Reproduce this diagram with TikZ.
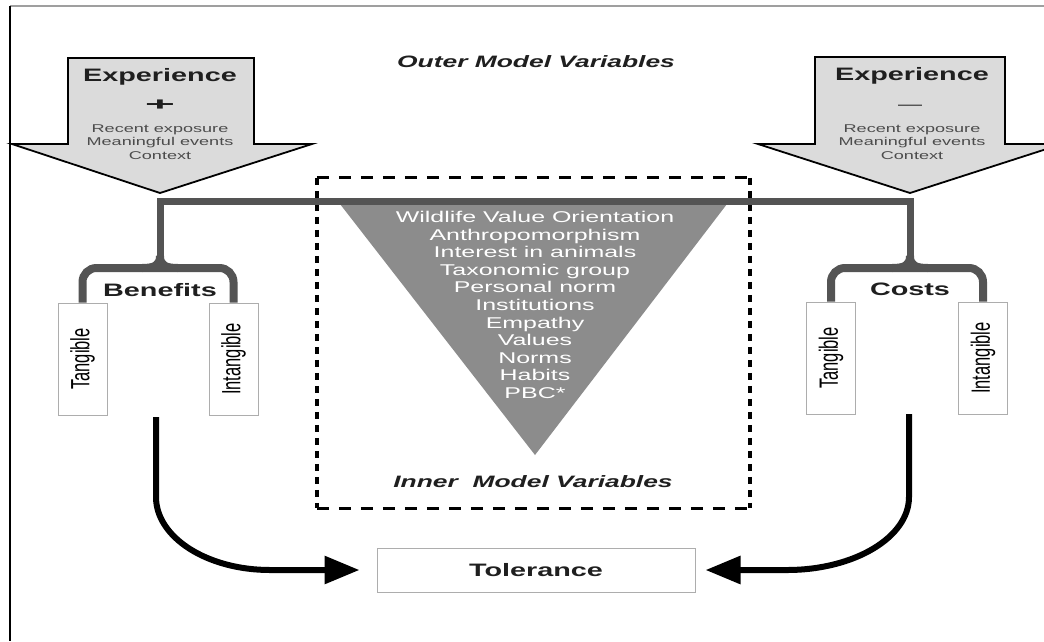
\documentclass[tikz,border=0pt]{standalone}
\usepackage{fontspec}
\usepackage{graphicx}
\setmainfont{Liberation Sans}[FakeStretch=1.6]
\newfontfamily\uprightfont{Liberation Sans}
\usetikzlibrary{positioning, arrows.meta}

\definecolor{barGray}{gray}{0.33}
\definecolor{triFill}{gray}{0.55}
\definecolor{arrowFill}{gray}{0.86}
\definecolor{boxLine}{gray}{0.68}
\definecolor{textDark}{gray}{0.12}
\definecolor{textGray}{gray}{0.30}

\newcommand{\sidelabel}[1]{\rotatebox{90}{\scalebox{1}[1.6]{\uprightfont\fontsize{16.5}{18}\selectfont #1}}}

\begin{document}
\begin{tikzpicture}[
        x=1pt, y=-1pt,
        bar/.style={draw=barGray, line width=7pt, line join=miter},
        branch/.style={draw=barGray, line width=8pt},
        flow/.style={draw=black, line width=6pt, -{Triangle[length=35pt, width=27pt]}},
        expshape/.style={draw=black, line width=1.8pt, fill=arrowFill, line join=miter},
        heading/.style={font=\fontsize{18}{20}\selectfont\bfseries, text=textDark, inner sep=0pt},
        subtext/.style={font=\fontsize{11.3}{13.5}\selectfont, text=textGray, align=center, inner sep=0pt},
        titletext/.style={font=\fontsize{16.5}{18}\selectfont\bfseries\itshape, text=textDark, inner sep=0pt},
        kindbox/.style={draw=boxLine, line width=1pt, minimum width=49pt, minimum height=112pt, inner sep=0pt},
        tritext/.style={font=\fontsize{15.6}{17.6}\selectfont, text=white, align=center, inner sep=0pt},
        hdash/.style={draw=black, line width=2.8pt, dash pattern=on 12pt off 10pt},
        vdash/.style={draw=black, line width=3.8pt, dash pattern=on 7pt off 6pt}
    ]
    \clip (0,0) rectangle (1044,641);
    \fill[white] (0,0) rectangle (1044,641);
    \draw[gray!75, line width=1.5pt] (10,6) -- (1044,6);
    \draw[black, line width=2pt] (10,6) -- (10,641);

    \node[titletext] (outer) at (536,62) {Outer Model Variables};

    \node[minimum width=433pt, minimum height=330pt, inner sep=0pt] (inner) at (533.5,343) {};
    \draw[hdash] (inner.north west) -- (inner.north east);
    \draw[hdash] (inner.south west) -- (inner.south east);
    \draw[vdash] (inner.north west) -- (inner.south west);
    \draw[vdash] (inner.north east) -- (inner.south east);

    \fill[triFill] (340,204) -- (727,204) -- (535,455) -- cycle;
    \node[tritext] (variables) at (535,305) {Wildlife Value Orientation\\
    Anthropomorphism\\
    Interest in animals\\
    Taxonomic group\\
    Personal norm\\
    Institutions\\
    Empathy\\
    Values\\
    Norms\\
    Habits\\
    PBC*};
    \node[titletext] (innerlabel) at (533,482) {Inner\ \ Model Variables};

    \draw[expshape] (68,58) -- (254,58) -- (254,144) -- (312,144) -- (160,193) -- (12,144) -- (68,144) -- cycle;
    \draw[expshape] (815,57) -- (1005,57) -- (1005,144) -- (1062,144) -- (910,193) -- (758,144) -- (815,144) -- cycle;
    \coordinate (ltip) at (160,193);
    \coordinate (rtip) at (910,193);

    \node[heading] (lexp) at (160,77) {Experience};
    \node[heading] (lsign) at (160,105) {\scalebox{1.8}[1]{+}};
    \node[subtext] (lsub) at (160,142) {Recent exposure\\Meaningful events\\Context};
    \node[heading] (rexp) at (912,76) {Experience};
    \node[font=\fontsize{15}{15}\selectfont, text=textDark, inner sep=0pt] (rsign) at (910,107) {—};
    \node[subtext] (rsub) at (912,142) {Recent exposure\\Meaningful events\\Context};

    \node[kindbox] (ltan) at (82.5,359) {\sidelabel{Tangible}};
    \node[kindbox, right=101pt of ltan] (lint) {\sidelabel{Intangible}};
    \node[kindbox] (rtan) at (831,358) {\sidelabel{Tangible}};
    \node[kindbox, right=102pt of rtan] (rint) {\sidelabel{Intangible}};

    \node[heading] (benefits) at (160,290) {Benefits};
    \node[heading] (costs) at (910,289) {Costs};

    \coordinate (lfork) at (160,256);
    \coordinate (rfork) at (910,256);
    \coordinate (lbranch) at (160,268);
    \coordinate (rbranch) at (910,268);

    \draw[bar] (lfork) -- (160,201) -- (910,201) -- (rfork);
    \draw[branch, rounded corners=14pt] (ltan.north) -- (ltan.north |- lbranch) -- (lint.north |- lbranch) -- (lint.north);
    \draw[branch, rounded corners=14pt] (rtan.north) -- (rtan.north |- rbranch) -- (rint.north |- rbranch) -- (rint.north);
    \draw[branch] (lfork) .. controls (160,265) and (155,268) .. (142,268);
    \draw[branch] (lfork) .. controls (160,265) and (165,268) .. (178,268);
    \draw[branch] (rfork) .. controls (910,265) and (905,268) .. (892,268);
    \draw[branch] (rfork) .. controls (910,265) and (915,268) .. (928,268);

    \node[draw=boxLine, line width=1pt, minimum width=318pt, minimum height=44pt, font=\fontsize{18}{20}\selectfont\bfseries, text=textDark] (tol) at (536,570) {Tolerance};

    \coordinate (lout) at (156,417);
    \coordinate (rout) at (909,414);
    \draw[flow, shorten >=17pt] (lout) -- (156,497) arc[start angle=180, end angle=90, x radius=114, y radius=73] -- (tol.west);
    \draw[flow, shorten >=10pt] (rout) -- (909,497) arc[start angle=0, end angle=90, x radius=122, y radius=73] -- (tol.east);
\end{tikzpicture}
\end{document}
